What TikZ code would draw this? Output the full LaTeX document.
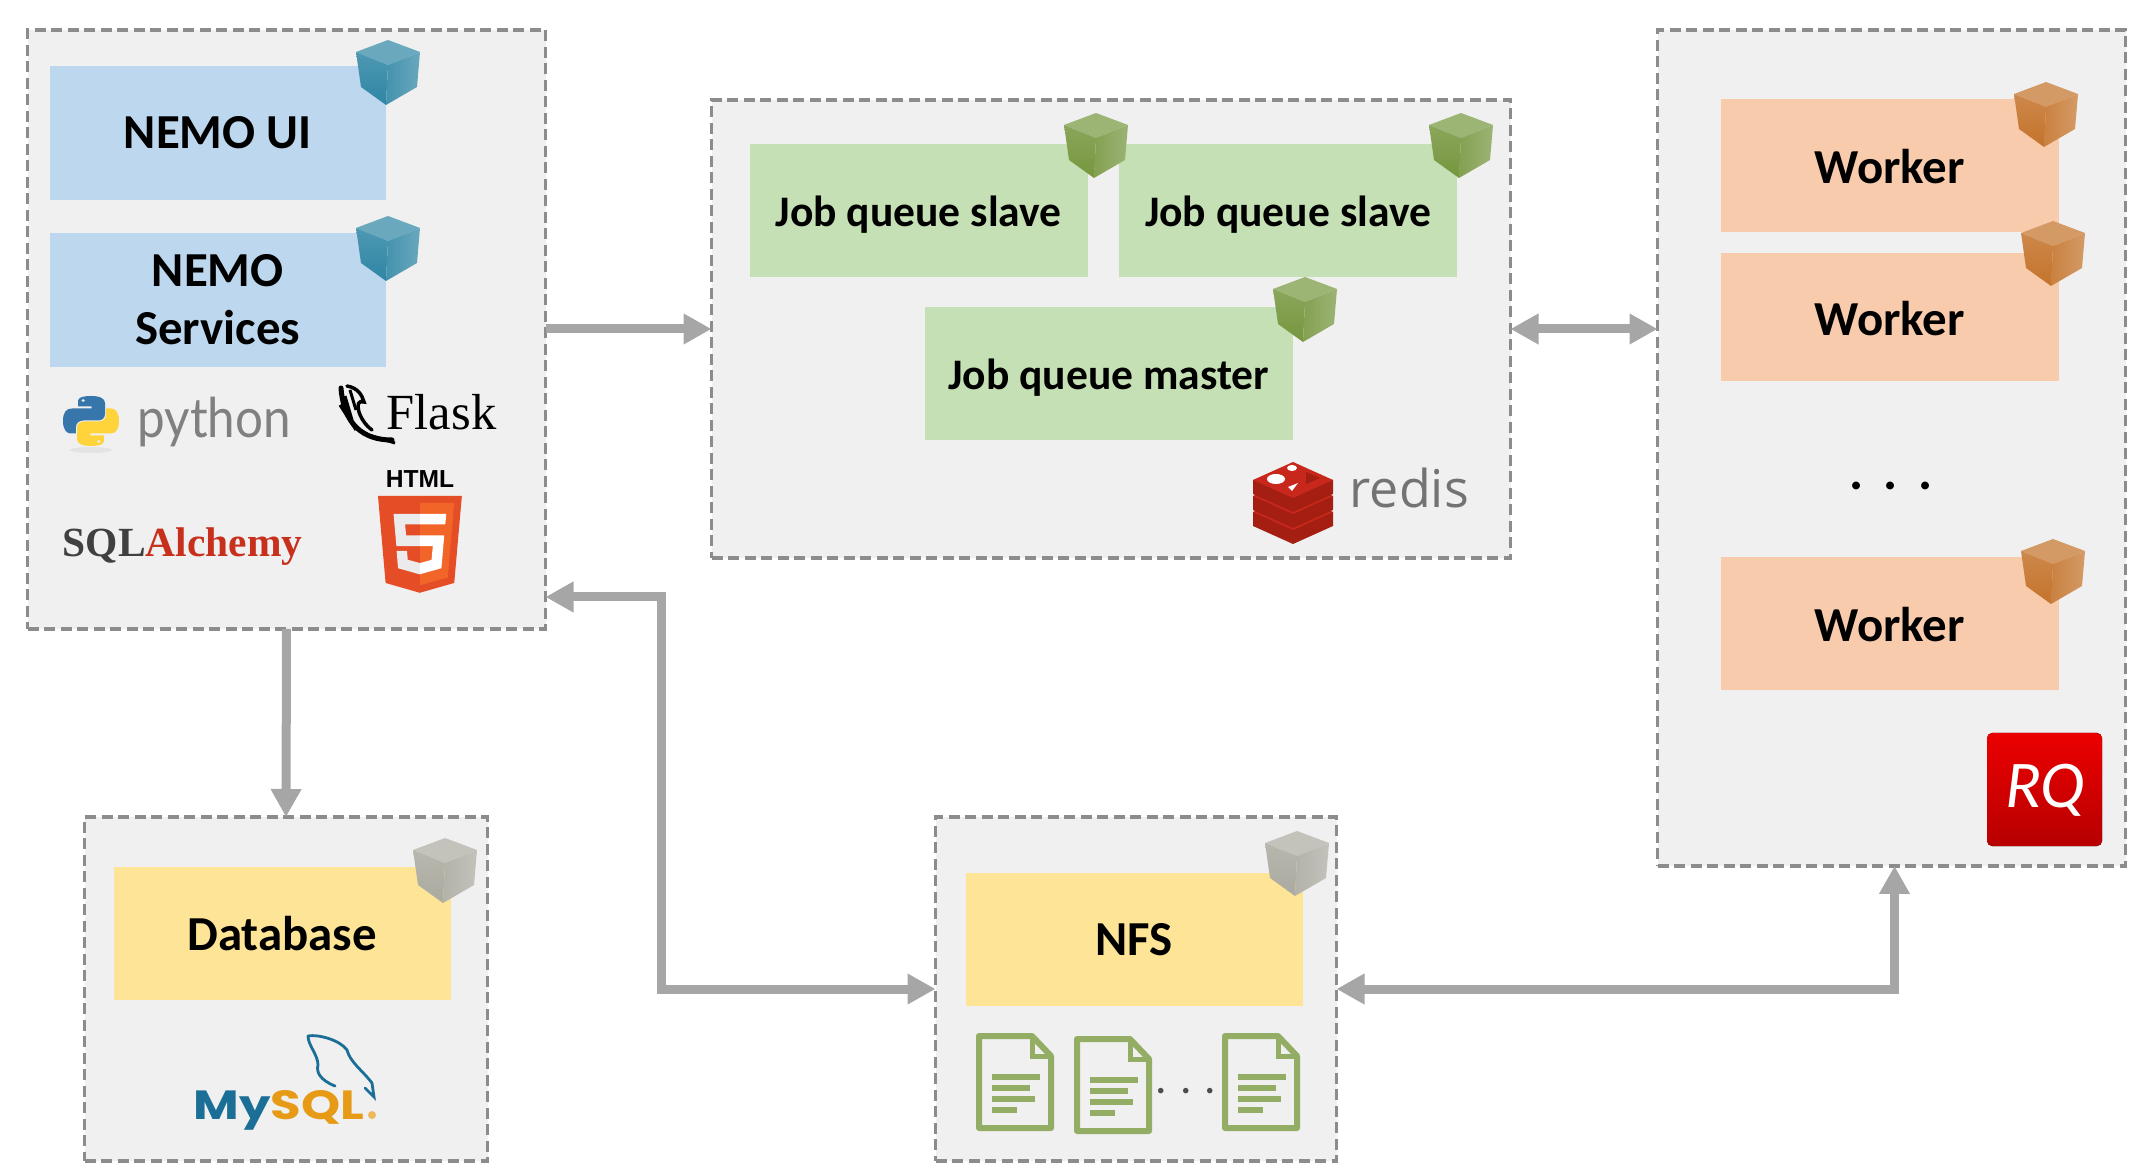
\documentclass[tikz,border=0pt]{standalone}
\usepackage{graphicx}
\usepackage{fontspec}
\setmainfont{Carlito}
\newfontfamily\pyfont{Poppins}
\newfontfamily\latofont{Lato}
\newfontfamily\serifont{Liberation Serif}
\newfontfamily\sansfont{Liberation Sans}
\newfontfamily\redisfont{Open Sans}
\usetikzlibrary{positioning,arrows.meta}
\definecolor{groupfill}{HTML}{F0F0F0}
\definecolor{groupline}{HTML}{8C8C8C}
\definecolor{flowgray}{HTML}{A6A6A6}
\definecolor{uiblue}{HTML}{BDD7EE}
\definecolor{jobgreen}{HTML}{C5E0B4}
\definecolor{workorange}{HTML}{F8CBAD}
\definecolor{storeyellow}{HTML}{FEE497}
\definecolor{cubeblue}{HTML}{2F86A4}
\definecolor{cubegreen}{HTML}{76963E}
\definecolor{cubeorange}{HTML}{C4732B}
\definecolor{cubegray}{HTML}{ABAAA0}
\definecolor{docgreen}{HTML}{93AE64}
\definecolor{redisred}{HTML}{C8281C}
\definecolor{reddark}{HTML}{A41E11}
\definecolor{mysqlblue}{HTML}{1B6E96}
\definecolor{mysqlorange}{HTML}{E79A16}
\definecolor{htmlred}{HTML}{E44D26}
\definecolor{htmllight}{HTML}{F16529}
\definecolor{pyblue}{HTML}{3776AB}
\definecolor{pyyellow}{HTML}{FFD43B}
\tikzset{
  group/.style = {draw=groupline, fill=groupfill, line width=.33mm, dash pattern=on 1.1mm off .55mm, inner sep=0pt, outer sep=0pt, anchor=north west},
  tile/.style = {inner sep=0pt, anchor=north west, align=center, font=\fontsize{13.9}{16.5}\selectfont\bfseries},
  uitile/.style = {tile, fill=uiblue, minimum width=33.6mm, minimum height=13.4mm},
  jobtile/.style = {tile, fill=jobgreen, minimum width=33.8mm, minimum height=13.3mm, text height=4.1mm, text depth=.9mm, font=\fontsize{12.4}{15}\selectfont\bfseries},
  worktile/.style = {tile, fill=workorange, minimum width=33.8mm, minimum height=13.3mm, text height=4mm, text depth=.3mm},
  storetile/.style = {tile, fill=storeyellow, minimum width=33.7mm, minimum height=13.3mm},
  logotext/.style = {inner sep=0pt, anchor=base west},
  flow/.style = {draw=flowgray, line width=.9mm},
  flowone/.style = {flow, -{Triangle[length=2.8mm,width=2.9mm]}},
  flowboth/.style = {flow, {Triangle[length=2.8mm,width=2.9mm]}-{Triangle[length=2.8mm,width=2.9mm]}},
  pics/nodecube/.style = {code={
    \fill[#1!72!white] (32,0) -- (64,12) -- (32,25) -- (0,12) -- cycle;
    \shade[top color=#1!85!white, bottom color=#1] (0,12) -- (32,25) -- (30,65) -- (5,47) -- cycle;
    \shade[left color=#1!90!white, right color=#1!72!white] (32,25) -- (64,12) -- (61,47) -- (30,65) -- cycle;
  }},
  pics/docicon/.style = {code={
    \draw[docgreen, line width=.6mm, line join=round] (3,3) -- (56,3) -- (75,23) -- (75,95) -- (3,95) -- cycle;
    \draw[docgreen, line width=.5mm] (56,3) -- (56,23) -- (75,23);
    \fill[docgreen] (16,41) rectangle (64,47);
    \fill[docgreen] (16,52) rectangle (54,58);
    \fill[docgreen] (16,63) rectangle (59,69);
    \fill[docgreen] (16,74) rectangle (41,80);
  }},
  pics/redislayer/.style = {code={
    \fill[reddark] (0,18) -- (0,32) -- (40,50) -- (80,32) -- (80,18) -- cycle;
    \fill[redisred] (0,18) -- (40,0) -- (80,18) -- (40,36) -- cycle;
  }},
}
\begin{document}
\begin{tikzpicture}[x=.1mm, y=-.1mm]
  \useasboundingbox (1,1) rectangle (2144,1173);

  % dashed groups
  \node[group, minimum width=51.8mm, minimum height=59.9mm] (uigroup) at (28.5,31) {};
  \node[group, minimum width=79.9mm, minimum height=45.8mm] (jobgroup) at (712.5,101) {};
  \node[group, minimum width=46.8mm, minimum height=83.6mm] (workergroup) at (1658.5,31) {};
  \node[group, minimum width=40.3mm, minimum height=34.4mm] (dbgroup) at (85.5,818) {};
  \node[group, minimum width=40.1mm, minimum height=34.4mm] (nfsgroup) at (936.5,818) {};

  % tiles
  \node[uitile] (nemoui) at (50,66) {NEMO UI};
  \node[uitile, below=3.2mm of nemoui] (services) {NEMO\\Services};
  \node[jobtile] (slavea) at (750,144) {Job queue slave};
  \node[jobtile, right=3mm of slavea] (slaveb) {Job queue slave};
  \node[jobtile, minimum width=36.8mm] (master) at (925,307) {Job queue master};
  \node[worktile] (workera) at (1721,99) {Worker};
  \node[worktile, minimum height=12.8mm] (workerb) at (1721,253) {Worker};
  \node[inner sep=0pt, font=\fontsize{15}{16}\selectfont\bfseries] (workerdots) at (1892,487) {.\hspace{2mm}.\hspace{2mm}.};
  \node[worktile] (workerc) at (1721,557) {Worker};
  \node[storetile] (database) at (114,867) {Database};
  \node[storetile] (nfs) at (966,873) {NFS};

  % cubes
  \pic at (357,41) {nodecube=cubeblue};
  \pic at (357,217) {nodecube=cubeblue};
  \pic at (1065,114) {nodecube=cubegreen};
  \pic at (1430,114) {nodecube=cubegreen};
  \pic at (1274,278) {nodecube=cubegreen};
  \pic at (2015,83) {nodecube=cubeorange};
  \pic at (2022,222) {nodecube=cubeorange};
  \pic at (2022,540) {nodecube=cubeorange};
  \pic at (414,839) {nodecube=cubegray};
  \pic at (1266,832) {nodecube=cubegray};

  % python
  \begin{scope}[shift={(64,397)}, x=5.6mm, y=-5mm]
    \fill[black, fill opacity=.05] (.5,1.08) ellipse [x radius=.38, y radius=.06];
    \fill[pyblue] (.5,0) .. controls (.25,0) and (.27,.1) .. (.27,.1) -- (.27,.21) -- (.51,.21) -- (.51,.25) -- (.16,.25) .. controls (.06,.25) and (0,.32) .. (0,.5) .. controls (0,.7) and (.08,.75) .. (.14,.75) -- (.23,.75) -- (.23,.63) .. controls (.23,.55) and (.28,.49) .. (.37,.49) -- (.62,.49) .. controls (.7,.49) and (.75,.44) .. (.75,.36) -- (.75,.14) .. controls (.75,.05) and (.66,0) .. (.5,0) -- cycle;
    \fill[groupfill] (.36,.09) circle [radius=.03];
    \fill[pyyellow] (.5,1) .. controls (.75,1) and (.73,.9) .. (.73,.9) -- (.73,.79) -- (.49,.79) -- (.49,.75) -- (.84,.75) .. controls (.94,.75) and (1,.68) .. (1,.5) .. controls (1,.3) and (.92,.25) .. (.86,.25) -- (.77,.25) -- (.77,.37) .. controls (.77,.45) and (.72,.51) .. (.63,.51) -- (.38,.51) .. controls (.3,.51) and (.25,.56) .. (.25,.64) -- (.25,.86) .. controls (.25,.95) and (.34,1) .. (.5,1) -- cycle;
    \fill[groupfill] (.64,.91) circle [radius=.03];
  \end{scope}
  \node[logotext, text=black!50, font=\latofont\fontsize{15.6}{15}\selectfont] (python) at (138,439) {\scalebox{.9}[1]{python}};

  % flask
  \draw[black, line width=.5mm, line cap=round] (342,389) .. controls (344,416) and (356,441) .. (393,441);
  \draw[black, line width=.35mm, line cap=round] (348,387) .. controls (359,389) and (363,396) .. (365,403) .. controls (354,399) and (359,421) .. (373,431);
  \draw[black, line width=.3mm] (346,397) -- (353,421) (341,406) -- (357,431) (351,391) -- (357,411) (366,435) -- (396,444);
  \node[logotext, font=\serifont\fontsize{14.4}{15}\selectfont] (flask) at (387,431) {Flask};

  % sqlalchemy
  \node[logotext, text=black!75, font=\serifont\bfseries\fontsize{11.8}{12}\selectfont] (sqlalchemy) at (63,558) {SQL\textcolor[HTML]{C8301E}{Alchemy}};

  % html5
  \node[inner sep=0pt, font=\sansfont\bfseries\fontsize{7}{7}\selectfont] (htmltag) at (421,480) {HTML};
  \begin{scope}[shift={(373.4,497)}, x=.0186mm, y=-.0189mm]
    \fill[htmlred] (71,460) -- (30,0) -- (481,0) -- (440,460) -- (255,512) -- cycle;
    \fill[htmllight] (256,472) -- (405,431) -- (440,37) -- (256,37) -- cycle;
    \fill[white!92!black] (256,208) -- (181,208) -- (176,150) -- (256,150) -- (256,94) -- (114,94) -- (115,109) -- (129,265) -- (256,265) -- cycle;
    \fill[white!92!black] (256,355) -- (190,337) -- (186,290) -- (130,290) -- (138,382) -- (256,415) -- cycle;
    \fill[white] (255,208) -- (255,265) -- (325,265) -- (318,338) -- (255,355) -- (255,414) -- (371,382) -- (372,372) -- (385,223) -- (386,208) -- cycle;
    \fill[white] (255,94) -- (255,150) -- (392,150) -- (393,138) -- (396,109) -- (397,94) -- cycle;
  \end{scope}

  % redis
  \pic at (1254,495) {redislayer};
  \pic at (1254,479) {redislayer};
  \pic at (1254,463) {redislayer};
  \fill[white] (1277,480) ellipse [x radius=9, y radius=5];
  \fill[white] (1293,469) ellipse [x radius=5, y radius=3];
  \fill[white] (1289,488) -- (1299,484) -- (1293,492) -- cycle;
  \fill[reddark] (1307,473) -- (1321,479) -- (1307,485) -- cycle;
  \node[logotext, text=black!55, font=\redisfont\fontsize{14.8}{15}\selectfont] (redis) at (1350,509) {redis};

  % rq
  \fill[rounded corners=.5mm, top color=red!92!black, bottom color=red!72!black] (1988,734) rectangle (2103,847);
  \node[text=white, inner sep=0pt, font=\itshape\fontsize{19}{19}\selectfont] (rqmark) at (2046,791) {RQ};

  % mysql
  \draw[mysqlblue, line width=.28mm, line cap=round] (309,1037) .. controls (319,1035) and (341,1041) .. (348,1051) .. controls (351,1063) and (363,1071) .. (373,1084) -- (375,1098) -- (366,1089);
  \draw[mysqlblue, line width=.28mm, line cap=round] (309,1037) .. controls (309,1046) and (319,1056) .. (319,1066) .. controls (317,1073) and (321,1081) .. (336,1087);
  \node[logotext, font=\pyfont\bfseries\fontsize{11.6}{12}\selectfont] (mysql) at (194,1120) {\scalebox{1.22}[1]{\textcolor{mysqlblue}{My}\textcolor{mysqlorange}{SQL}}};
  \fill[mysqlorange!70] (373,1116) circle [radius=4];

  % files
  \pic at (977,1034) {docicon};
  \pic at (1075,1037) {docicon};
  \pic at (1223,1034) {docicon};
  \node[inner sep=0pt, text=black!70, font=\fontsize{13}{14}\selectfont] (filedots) at (1187,1092) {.\hspace{1.3mm}.\hspace{1.3mm}.};

  % connectors
  \coordinate (nfsbus) at (662,800);
  \draw[flowone] (uigroup.east |- jobgroup.west) -- (jobgroup.west);
  \draw[flowboth] (jobgroup.east) -- (jobgroup.east -| workergroup.west);
  \draw[flowone] (uigroup.south) -- (dbgroup.north);
  \draw[flowboth] ([yshift=3.2mm]uigroup.south east) -| (nfsbus) |- (nfsgroup.west);
  \draw[flowboth] (nfsgroup.east) -| ([xshift=.3mm]workergroup.south);
\end{tikzpicture}
\end{document}
